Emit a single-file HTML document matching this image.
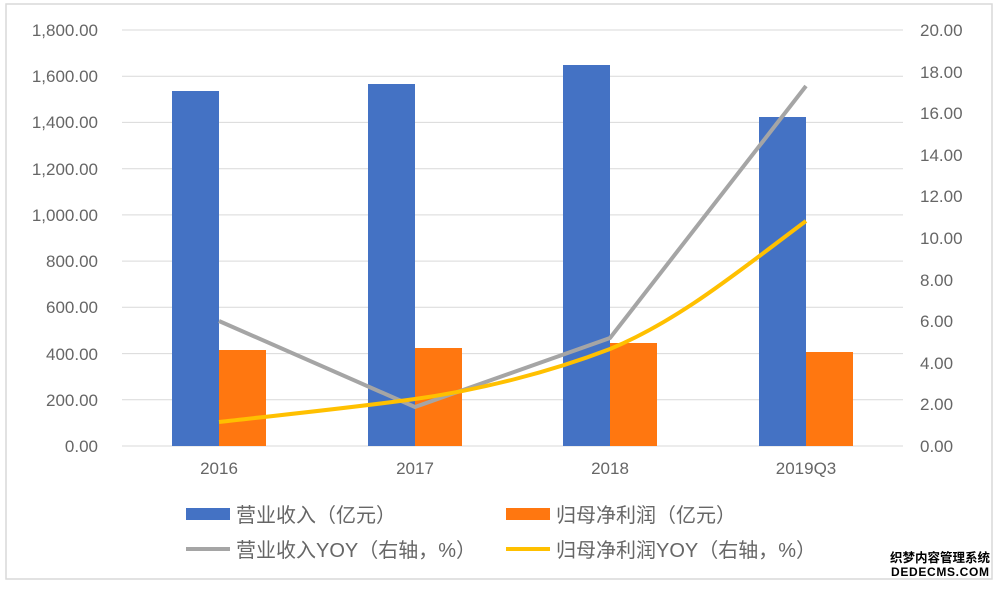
<!DOCTYPE html>
<html><head><meta charset="utf-8"><style>
body{margin:0;background:#fff;width:1000px;height:585px;overflow:hidden}
svg text{font-family:"Liberation Sans","Noto Sans CJK SC",sans-serif;fill:#666}
</style></head><body>
<svg width="1000" height="585" xmlns="http://www.w3.org/2000/svg">
<rect x="6" y="4" width="986" height="575" fill="#fff" stroke="#d9d9d9" stroke-width="1.5"/>
<g stroke="#d9d9d9" stroke-width="1">
<line x1="122" x2="903" y1="30" y2="30"/><line x1="122" x2="903" y1="76.2" y2="76.2"/>
<line x1="122" x2="903" y1="122.4" y2="122.4"/><line x1="122" x2="903" y1="168.7" y2="168.7"/>
<line x1="122" x2="903" y1="214.9" y2="214.9"/><line x1="122" x2="903" y1="261.1" y2="261.1"/>
<line x1="122" x2="903" y1="307.3" y2="307.3"/><line x1="122" x2="903" y1="353.6" y2="353.6"/>
<line x1="122" x2="903" y1="399.8" y2="399.8"/><line x1="122" x2="903" y1="446" y2="446"/>
</g>
<g font-size="17" text-anchor="end">
<text x="98" y="36">1,800.00</text><text x="98" y="82">1,600.00</text>
<text x="98" y="128">1,400.00</text><text x="98" y="175">1,200.00</text>
<text x="98" y="221">1,000.00</text><text x="98" y="267">800.00</text>
<text x="98" y="313">600.00</text><text x="98" y="360">400.00</text>
<text x="98" y="406">200.00</text><text x="98" y="452">0.00</text>
</g>
<g font-size="17" text-anchor="start">
<text x="920" y="36">20.00</text><text x="920" y="78">18.00</text>
<text x="920" y="119">16.00</text><text x="920" y="161">14.00</text>
<text x="920" y="202">12.00</text><text x="920" y="244">10.00</text>
<text x="920" y="286">8.00</text><text x="920" y="327">6.00</text>
<text x="920" y="369">4.00</text><text x="920" y="410">2.00</text>
<text x="920" y="452">0.00</text>
</g>
<g fill="#4472c4">
<rect x="172" y="91" width="47" height="355"/><rect x="368" y="84" width="47" height="362"/>
<rect x="563" y="65" width="47" height="381"/><rect x="759" y="117" width="47" height="329"/>
</g>
<g fill="#ff7710">
<rect x="219" y="350" width="47" height="96"/><rect x="415" y="348" width="47" height="98"/>
<rect x="610" y="343" width="47" height="103"/><rect x="806" y="352" width="47" height="94"/>
</g>
<polyline points="219,321 415,407 610,338 806,86" fill="none" stroke="#a5a5a5" stroke-width="4" stroke-linejoin="round"/>
<path d="M219,422 C280,415 350,408 415,399 C480,390 550,372 610,349 C680,320 740,270 806,221" fill="none" stroke="#ffc000" stroke-width="4"/>
<g font-size="17" text-anchor="middle">
<text x="219" y="474">2016</text><text x="415" y="474">2017</text>
<text x="610" y="474">2018</text><text x="806" y="474">2019Q3</text>
</g>
<rect x="186" y="508" width="44" height="12" fill="#4472c4"/>
<text x="236" y="522" font-size="20">营业收入（亿元）</text>
<rect x="506" y="508" width="44" height="12" fill="#ff7710"/>
<text x="556" y="522" font-size="20">归母净利润（亿元）</text>
<line x1="186" x2="230" y1="549" y2="549" stroke="#a5a5a5" stroke-width="4"/>
<text x="236" y="557" font-size="20">营业收入YOY（右轴，%）</text>
<line x1="506" x2="550" y1="549" y2="549" stroke="#ffc000" stroke-width="4"/>
<text x="556" y="557" font-size="20">归母净利润YOY（右轴，%）</text>
<text x="890" y="562" font-size="12.5" style="fill:#000;font-weight:bold">织梦内容管理系统</text>
<text x="891" y="576" font-size="12" textLength="98" style="fill:#000;font-weight:bold">DEDECMS.COM</text>
</svg>
</body></html>
